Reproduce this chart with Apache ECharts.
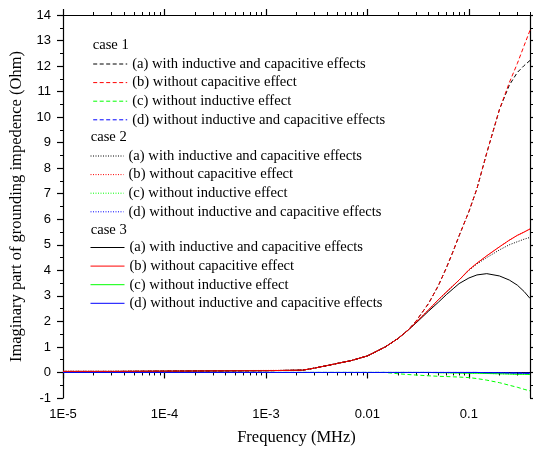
<!DOCTYPE html>
<html><head><meta charset="utf-8">
<script src="https://cdn.jsdelivr.net/npm/echarts@6/dist/echarts.min.js"></script>
<style>html,body{margin:0;padding:0;background:#fff}#c{width:533px;height:454px}</style>
</head><body><div id="c"></div>
<script>
// ---- data ----
const freq = [1e-5, 3e-5, 1e-4, 3e-4, 1e-3, 2.3e-3, 3e-3, 4e-3, 5e-3, 7e-3, 0.01, 0.015, 0.02, 0.025, 0.03, 0.04, 0.05, 0.06, 0.07, 0.08, 0.1, 0.12, 0.15, 0.2, 0.25, 0.3, 0.35, 0.4];
const case1a = [0.04,0.04,0.05,0.06,0.07,0.09,0.17,0.27,0.35,0.47,0.65,1.0,1.33,1.65,2.0,2.7,3.4,4.1,4.75,5.35,6.3,7.2,8.6,10.3,11.25,11.75,12.02,12.22];
const case1b = [0.04,0.04,0.05,0.06,0.07,0.09,0.17,0.27,0.35,0.47,0.65,1.0,1.33,1.65,2.0,2.7,3.4,4.1,4.75,5.35,6.3,7.2,8.6,10.3,11.35,12.1,12.8,13.4];
const case1c = [0,0,0,0,0,0,0,0,0,0,0,0,-0.05,-0.08,-0.1,-0.13,-0.15,-0.16,-0.17,-0.18,-0.2,-0.24,-0.3,-0.4,-0.5,-0.58,-0.66,-0.72];
const case1d = [0,0,0,0,0,0,0,0,0,0,0,0,0,0,0,0,0,0,0,0,0,0,-0.01,-0.01,-0.02,-0.02,-0.03,-0.03];
const case2a = [0.04,0.04,0.05,0.06,0.07,0.09,0.17,0.27,0.35,0.47,0.65,1.0,1.33,1.65,1.95,2.45,2.85,3.15,3.4,3.62,4.0,4.25,4.5,4.8,5.0,5.12,5.22,5.29];
const case2b = [0.05,0.05,0.06,0.07,0.08,0.09,0.17,0.27,0.35,0.47,0.65,1.0,1.33,1.65,1.95,2.45,2.85,3.15,3.4,3.62,4.02,4.28,4.57,4.92,5.18,5.37,5.5,5.62];
const case2c = [0,0,0,0,0,0,0,0,0,0,0,0,0,0,0,0,-0.01,-0.01,-0.02,-0.02,-0.03,-0.03,-0.04,-0.05,-0.06,-0.07,-0.07,-0.08];
const case2d = [0,0,0,0,0,0,0,0,0,0,0,0,0,0,0,0,0,0,0,0,0,0,-0.01,-0.01,-0.02,-0.02,-0.03,-0.03];
const case3a = [0.04,0.04,0.05,0.06,0.07,0.09,0.17,0.27,0.35,0.47,0.65,1.0,1.33,1.65,1.93,2.4,2.75,3.05,3.28,3.48,3.7,3.82,3.87,3.78,3.62,3.42,3.17,2.9];
const case3b = [0.04,0.04,0.05,0.06,0.07,0.09,0.17,0.27,0.35,0.47,0.65,1.0,1.33,1.65,1.95,2.45,2.85,3.15,3.4,3.62,4.02,4.28,4.57,4.92,5.18,5.37,5.5,5.62];
const case3c = [0,0,0,0,0,0,0,0,0,0,0,0,0,0,0,0,-0.01,-0.01,-0.02,-0.02,-0.03,-0.03,-0.04,-0.05,-0.06,-0.07,-0.07,-0.08];
const case3d = [0,0,0,0,0,0,0,0,0,0,0,0,0,0,0,0,0,0,0,0,0,0,-0.01,-0.01,-0.02,-0.02,-0.03,-0.03];
const itemLabels = ['(a) with inductive and capacitive effects','(b) without capacitive effect','(c) without inductive effect','(d) without inductive and capacitive effects'];
const caseTitles = ['case 1','case 2','case 3'];
const xMajorTicks = [1e-5, 1e-4, 1e-3, 0.01, 0.1];
const xTickText = ['1E-5','1E-4','1E-3','0.01','0.1'];
const xMinorTicks = [];
[1e-5,1e-4,1e-3,1e-2,1e-1].forEach(d => { for (let k = 2; k <= 9; k++) { const v = +(d*k).toPrecision(3); if (v <= 0.4) xMinorTicks.push(v); } });

const allData = [[case1a,case1b,case1c,case1d],[case2a,case2b,case2c,case2d],[case3a,case3b,case3c,case3d]];
const colors = ['#000000','#ff0000','#00ff00','#0000ff'];
const lineTypes = [[4,2.5],[1,1.5],'solid'];

const serif = 'Liberation Serif';
const sans = 'Liberation Sans';
const legendFont = 14.6;

const series = [];
const legends = [];
const legendLeft = [92.7, 90, 90];
const legendTop = [56.5, 148.5, 240];
const legendIconW = [34, 33, 34];
allData.forEach((cs, ci) => {
  const names = [];
  cs.forEach((vals, si) => {
    const name = (ci+1) + '|' + itemLabels[si];
    names.push(name);
    series.push({
      name, type: 'line', symbol: 'none', showSymbol: false, xAxisIndex: 0, yAxisIndex: 0,
      data: freq.map((f, i) => [f, vals[i]]),
      lineStyle: { color: colors[si], width: 1, type: lineTypes[ci] },
      itemStyle: { color: colors[si] },
      silent: true, animation: false
    });
  });
  legends.push({
    data: names, orient: 'vertical', left: legendLeft[ci], top: legendTop[ci],
    itemWidth: legendIconW[ci], itemHeight: 1, itemGap: 3.6, padding: 0, selectedMode: false,
    itemStyle: { opacity: 0 },
    lineStyle: { width: 1 },
    formatter: n => n.split('|')[1],
    textStyle: { fontFamily: serif, fontSize: legendFont, color: '#000', lineHeight: 14 }
  });
});

const fmtX = v => { const i = xMajorTicks.findIndex(t => Math.abs(Math.log10(t) - Math.log10(v)) < 1e-6); return i >= 0 ? xTickText[i] : ''; };
const axLine = { show: true, lineStyle: { color: '#000', width: 1.2 } };
const baseX = { type: 'log', logBase: 10, min: 1e-5, max: 0.4, splitLine: { show: false }, gridIndex: 0 };

const option = {
  backgroundColor: '#fff',
  animation: false,
  grid: { left: 63, right: 3, top: 15, bottom: 56, containLabel: false, outerBoundsMode: 'none' },
  legend: legends,
  graphic: caseTitles.map((t, i) => ({
    type: 'text', x: [92.7, 90.7, 90.7][i], y: [45, 137.3, 230][i],
    style: { text: t, font: legendFont + 'px "Liberation Serif"', fill: '#000', verticalAlign: 'middle' }
  })),
  xAxis: [
    Object.assign({}, baseX, { position: 'bottom', axisLine: axLine,
      axisTick: { show: true, inside: false, length: 6, customValues: xMajorTicks, lineStyle: { color: '#000', width: 1.2 } },
      axisLabel: { show: true, customValues: xMajorTicks, formatter: fmtX, color: '#000', fontFamily: sans, fontSize: 13, margin: 10 },
      name: 'Frequency (MHz)', nameLocation: 'middle', nameGap: 31,
      nameTextStyle: { fontFamily: serif, fontSize: 16.5, color: '#000' } }),
    Object.assign({}, baseX, { position: 'bottom', axisLine: { show: false },
      axisTick: { show: true, inside: false, length: 3, customValues: xMinorTicks, lineStyle: { color: '#000', width: 1 } },
      axisLabel: { show: false } }),
    Object.assign({}, baseX, { position: 'top', axisLine: axLine,
      axisTick: { show: true, inside: false, length: 6, customValues: xMajorTicks, lineStyle: { color: '#000', width: 1.2 } },
      axisLabel: { show: false } }),
    Object.assign({}, baseX, { position: 'top', axisLine: { show: false },
      axisTick: { show: true, inside: false, length: 3, customValues: xMinorTicks, lineStyle: { color: '#000', width: 1 } },
      axisLabel: { show: false } })
  ],
  yAxis: [
    { type: 'value', min: -1, max: 14, interval: 1, position: 'left', axisLine: axLine,
      splitLine: { show: false },
      axisTick: { show: true, inside: false, length: 6, lineStyle: { color: '#000', width: 1.2 } },
      minorTick: { show: true, splitNumber: 2, length: 3, lineStyle: { color: '#000', width: 1 } },
      axisLabel: { color: '#000', fontFamily: sans, fontSize: 13, margin: 12 },
      name: 'Imaginary part of grounding impedence (Ohm)', nameLocation: 'middle', nameGap: 32,
      nameTextStyle: { fontFamily: serif, fontSize: 16.5, color: '#000' } },
    { type: 'value', min: -1, max: 14, interval: 1, position: 'right', axisLine: axLine,
      splitLine: { show: false },
      axisTick: { show: true, inside: false, length: 6, lineStyle: { color: '#000', width: 1.2 } },
      minorTick: { show: true, splitNumber: 2, length: 3, lineStyle: { color: '#000', width: 1 } },
      axisLabel: { show: false } }
  ],
  series
};
const chart = echarts.init(document.getElementById('c'), null, { renderer: 'canvas' });
chart.setOption(option);
</script></body></html>
